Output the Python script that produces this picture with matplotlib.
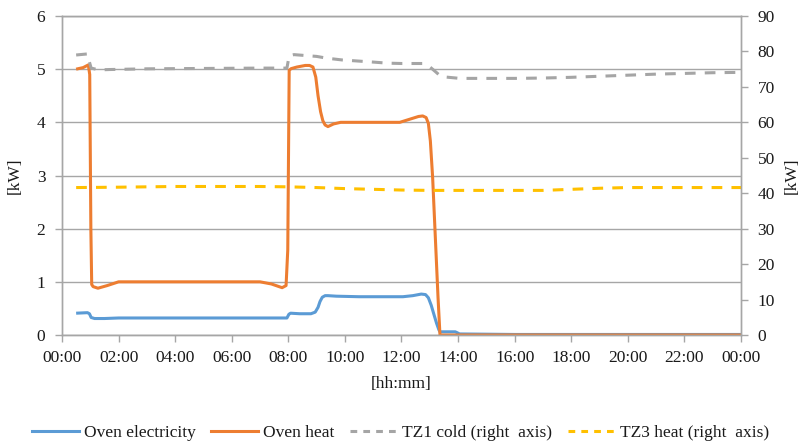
import matplotlib
matplotlib.use('Agg')
import matplotlib.pyplot as plt
from matplotlib.lines import Line2D

# ---------------- data (hours of day, values) ----------------
elec_hours = [0.5, 0.9, 0.97, 1.03, 1.15, 1.5, 2.0, 3.0, 4.0, 5.0, 6.0, 7.0, 7.95,
              8.02, 8.08, 8.4, 8.8, 8.95, 9.05, 9.12, 9.2, 9.3, 9.4, 9.7, 10.5, 11.5,
              12.05, 12.4, 12.7, 12.85, 12.95, 13.05, 13.15, 13.24, 13.32, 13.36, 13.6,
              13.9, 13.98, 14.05, 16.0, 20.0, 24.0]
oven_electricity = [0.41, 0.42, 0.40, 0.33, 0.31, 0.31, 0.32, 0.32, 0.32, 0.32, 0.32,
                    0.32, 0.32, 0.39, 0.41, 0.40, 0.40, 0.43, 0.52, 0.63, 0.71, 0.74,
                    0.74, 0.73, 0.72, 0.72, 0.72, 0.74, 0.77, 0.76, 0.70, 0.56, 0.38,
                    0.22, 0.10, 0.06, 0.06, 0.06, 0.04, 0.02, 0.01, 0.01, 0.01]

heat_hours = [0.5, 0.75, 0.93, 0.98, 1.02, 1.05, 1.1, 1.27, 1.6, 2.0, 3.0, 4.0, 5.0,
              6.0, 7.0, 7.4, 7.78, 7.92, 7.98, 8.03, 8.1, 8.3, 8.6, 8.75, 8.87, 8.97,
              9.05, 9.14, 9.22, 9.3, 9.4, 9.6, 9.85, 11.0, 11.94, 12.3, 12.6, 12.75,
              12.87, 12.95, 13.02, 13.1, 13.29, 13.36, 14.0, 24.0]
oven_heat = [5.0, 5.03, 5.08, 4.9, 2.0, 0.95, 0.91, 0.88, 0.93, 1.0, 1.0, 1.0, 1.0,
             1.0, 1.0, 0.96, 0.89, 0.93, 1.6, 4.98, 5.01, 5.04, 5.07, 5.07, 5.04, 4.85,
             4.5, 4.2, 4.03, 3.95, 3.92, 3.97, 4.0, 4.0, 4.0, 4.06, 4.11, 4.12, 4.09,
             3.98, 3.65, 2.97, 0.72, 0.0, 0.0, 0.0]

cold_hours = [0.5, 0.9, 0.97, 1.03, 1.3, 1.7, 3.0, 5.0, 7.0, 7.95, 8.03, 8.2, 9.0,
              9.36, 9.9, 11.0, 11.5, 12.0, 12.76, 12.95, 13.2, 13.4, 14.06, 16.0,
              17.0, 18.0, 19.0, 20.0, 21.0, 22.0, 23.0, 24.0]
tz1_cold = [79.0, 79.3, 77.0, 75.3, 74.8, 74.9, 75.1, 75.2, 75.3, 75.3, 78.8, 79.1,
            78.6, 78.1, 77.6, 77.0, 76.7, 76.6, 76.6, 76.0, 74.3, 72.9, 72.4, 72.4,
            72.5, 72.7, 73.0, 73.3, 73.6, 73.8, 74.0, 74.1]

heat3_hours = [0.5, 2.0, 4.0, 6.0, 7.0, 8.0, 9.0, 10.0, 11.0, 12.0, 13.0, 14.0,
               16.0, 17.0, 18.0, 19.0, 20.0, 22.0, 24.0]
tz3_heat = [41.6, 41.7, 41.9, 41.9, 41.9, 41.8, 41.6, 41.3, 41.1, 40.9, 40.8, 40.8,
            40.8, 40.8, 41.1, 41.4, 41.6, 41.6, 41.6]

x_tick_hours = [0, 2, 4, 6, 8, 10, 12, 14, 16, 18, 20, 22, 24]
x_tick_labels = ['00:00', '02:00', '04:00', '06:00', '08:00', '10:00', '12:00',
                 '14:00', '16:00', '18:00', '20:00', '22:00', '00:00']
left_ticks = [0, 1, 2, 3, 4, 5, 6]
right_ticks = [0, 10, 20, 30, 40, 50, 60, 70, 80, 90]

series_names = ['Oven electricity', 'Oven heat', 'TZ1 cold (right  axis)',
                'TZ3 heat (right  axis)']

# ---------------- style ----------------
plt.rcParams['font.family'] = ['Liberation Serif', 'DejaVu Serif']
plt.rcParams['font.size'] = 12.5
C_BLUE = '#5B9BD5'
C_ORANGE = '#ED7D31'
C_GRAY = '#A5A5A5'
C_YELLOW = '#FFC000'
C_GRID = '#A6A6A6'
C_TEXT = '#1a1a1a'
LW = 2.2
DASH = (3.5, 3.0)

fig = plt.figure(figsize=(8.01, 4.45), dpi=100)
ax = fig.add_axes([62 / 801, 110 / 445, 679 / 801, 319 / 445])
ax2 = ax.twinx()

ax.plot(elec_hours, oven_electricity, color=C_BLUE, lw=LW, solid_capstyle='butt',
        solid_joinstyle='round')
ax.plot(heat_hours, oven_heat, color=C_ORANGE, lw=LW, solid_capstyle='butt',
        solid_joinstyle='round')
ax2.plot(cold_hours, tz1_cold, color=C_GRAY, lw=LW, dashes=DASH, dash_capstyle='butt')
ax2.plot(heat3_hours, tz3_heat, color=C_YELLOW, lw=LW, dashes=DASH, dash_capstyle='butt')

ax.set_xlim(0, 24)
ax.set_ylim(0, 6)
ax2.set_ylim(0, 90)
ax.set_xticks(x_tick_hours)
ax.set_xticklabels(x_tick_labels)
ax.set_yticks(left_ticks)
ax2.set_yticks(right_ticks)

ax.grid(axis='y', color=C_GRID, lw=1.0)
ax.set_axisbelow(True)

for a in (ax, ax2):
    for side in ('left', 'right', 'bottom', 'top'):
        a.spines[side].set_color(C_GRID)
        a.spines[side].set_linewidth(1.0)
    a.spines['top'].set_visible(True)
    a.tick_params(colors=C_GRID, labelcolor=C_TEXT, width=1.0, length=5, direction='out')

ax.tick_params(axis='y', pad=7)
ax2.tick_params(axis='y', pad=7)
ax.tick_params(axis='x', pad=6)

ax.set_ylabel('[kW]', color=C_TEXT, labelpad=10)
ax2.set_ylabel('[kW]', color=C_TEXT, rotation=90, labelpad=6)
ax.set_xlabel('[hh:mm]', color=C_TEXT, labelpad=7)

handles = [
    Line2D([], [], color=C_BLUE, lw=LW),
    Line2D([], [], color=C_ORANGE, lw=LW),
    Line2D([], [], color=C_GRAY, lw=LW, dashes=(2.2, 2.0)),
    Line2D([], [], color=C_YELLOW, lw=LW, dashes=(2.2, 2.0)),
]
fig.legend(handles, series_names, loc='center', bbox_to_anchor=(0.5, 12 / 445),
           ncol=4, frameon=False, handlelength=2.7, handletextpad=0.3,
           columnspacing=0.9, labelcolor=C_TEXT, borderaxespad=0)

fig.savefig('out.png', dpi=100)
